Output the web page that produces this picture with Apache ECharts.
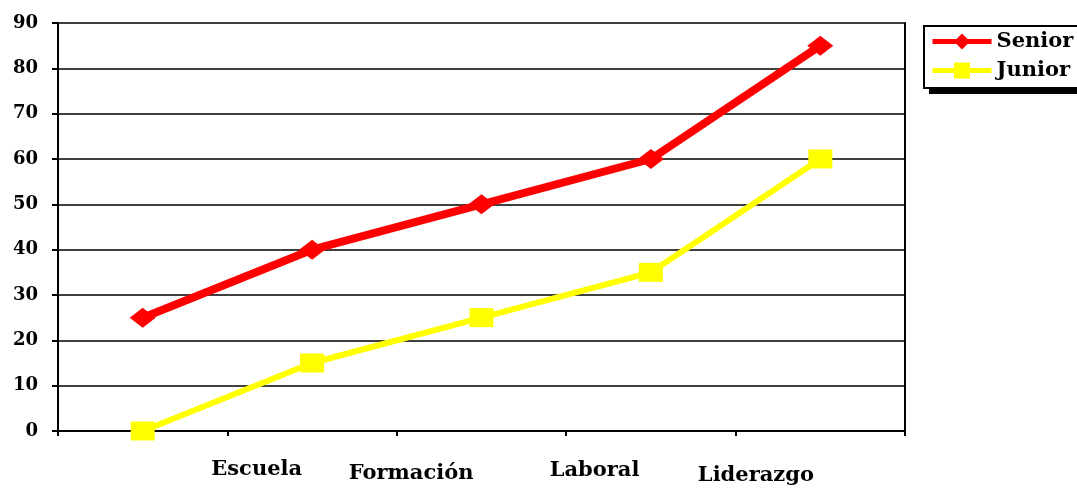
<!DOCTYPE html>
<html>
<head>
<meta charset="utf-8">
<script src="https://cdn.jsdelivr.net/npm/echarts@6/dist/echarts.min.js"></script>
<style>
  html, body { margin: 0; padding: 0; background: #fff; }
  #chart { width: 1077px; height: 488px; }
</style>
</head>
<body>
<div id="chart"></div>
<script>
// categories (the last point has no label in the original)
const categories = ['Escuela', 'Formación', 'Laboral', 'Liderazgo', '']
const seniorData = [25, 40, 50, 60, 85]
const juniorData = [0, 15, 25, 35, 60]

const font = 'DejaVu Serif'

// labels in the original sit off-center and a bit staggered
const labelRich = {
  l0: { padding: [0, 0, 0, 228] },
  l1: { padding: [4, 0, 0, 198] },
  l2: { padding: [1, 0, 0, 226] },
  l3: { padding: [6, 0, 0, 210] },
  l4: {},
}

const chart = echarts.init(document.getElementById('chart'))
chart.setOption({
  animation: false,
  backgroundColor: '#fff',
  grid: { left: 58, right: 172, top: 23, bottom: 57 },
  // drop shadow under the legend box
  graphic: [
    {
      type: 'rect',
      z: 0,
      shape: { x: 929, y: 31, width: 200, height: 63 },
      style: { fill: '#000' },
    },
  ],
  legend: {
    data: ['Senior', 'Junior'],
    orient: 'vertical',
    left: 924,
    top: 26,
    z: 10,
    backgroundColor: '#fff',
    borderColor: '#000',
    borderWidth: 2,
    borderRadius: 0,
    padding: [5, 90, 7, 6],
    itemWidth: 59,
    itemHeight: 20,
    itemGap: 8,
    lineStyle: { width: 5 },
    textStyle: { fontFamily: font, fontWeight: 'bold', fontSize: 21, color: '#000' },
  },
  xAxis: {
    type: 'category',
    data: categories,
    boundaryGap: true,
    axisLine: { lineStyle: { color: '#000', width: 2 } },
    axisTick: { show: true, length: 5, lineStyle: { color: '#000', width: 2 } },
    axisLabel: {
      interval: 0,
      margin: 28,
      fontFamily: font,
      fontWeight: 'bold',
      fontSize: 21,
      color: '#000',
      formatter: (v, i) => `{l${i}|${v}}`,
      rich: labelRich,
    },
  },
  yAxis: [
    {
      type: 'value',
      min: 0,
      max: 90,
      interval: 10,
      axisLine: { show: true, lineStyle: { color: '#000', width: 2 } },
      axisTick: { show: true, length: 6, lineStyle: { color: '#000', width: 2 } },
      splitLine: { lineStyle: { color: '#000', width: 1.5 } },
      axisLabel: { margin: 20, fontFamily: font, fontWeight: 'bold', fontSize: 18, color: '#000' },
    },
    {
      // right border of the plot
      type: 'value',
      position: 'right',
      min: 0,
      max: 90,
      interval: 10,
      axisLine: { show: true, lineStyle: { color: '#000', width: 2 } },
      axisTick: { show: false },
      axisLabel: { show: false },
      splitLine: { show: false },
    },
  ],
  series: [
    {
      name: 'Senior',
      type: 'line',
      data: seniorData,
      color: '#ff0000',
      lineStyle: { width: 8, color: '#ff0000' },
      symbol: 'diamond',
      symbolSize: [26, 20],
      itemStyle: { color: '#ff0000' },
      z: 3,
    },
    {
      name: 'Junior',
      type: 'line',
      data: juniorData,
      color: '#ffff00',
      lineStyle: { width: 6, color: '#ffff00' },
      symbol: 'rect',
      symbolSize: [24, 19],
      itemStyle: { color: '#ffff00' },
      z: 2,
    },
  ],
})
</script>
</body>
</html>
